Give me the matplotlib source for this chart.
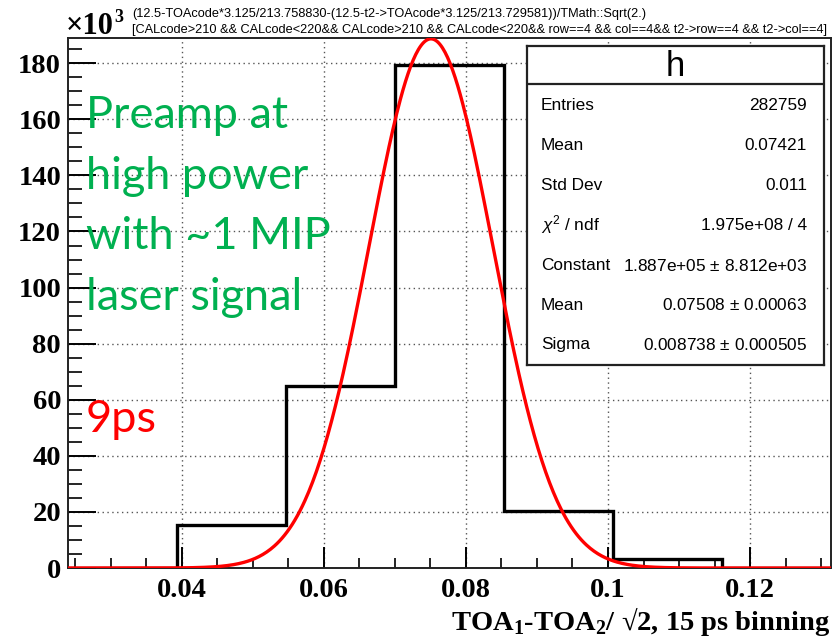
import numpy as np
import matplotlib
matplotlib.use("Agg")
import matplotlib.pyplot as plt
from matplotlib.ticker import MultipleLocator

# Histogram of (TOA1 - TOA2)/sqrt(2), 7 bins, counts in thousands
bin_lo = 0.0240
bin_width = 0.01534
counts_k = [0.0, 15.2, 64.8, 179.5, 20.4, 3.2, 0.0]

# Gaussian fit results
fit_constant = 1.887e5
fit_mean = 0.07508
fit_sigma = 0.008738

# Statistics box rows
stat_names = ["Entries", "Mean", "Std Dev", r"$\chi^2$ / ndf", "Constant", "Mean", "Sigma"]
stat_values = ["282759", "0.07421", "0.011", "1.975e+08 / 4",
               "1.887e+05 $\\pm$ 8.812e+03", "0.07508 $\\pm$ 0.00063",
               "0.008738 $\\pm$ 0.000505"]

x_ticks = [0.04, 0.06, 0.08, 0.10, 0.12]
x_ticklabels = ["0.04", "0.06", "0.08", "0.1", "0.12"]
y_ticks = [0, 20, 40, 60, 80, 100, 120, 140, 160, 180]

note_lines = ["Preamp at", "high power", "with ~1 MIP", "laser signal"]
resolution_note = "9ps"

title_line1 = "(12.5-TOAcode*3.125/213.758830-(12.5-t2->TOAcode*3.125/213.729581))/TMath::Sqrt(2.)"
title_line2 = "[CALcode>210 && CALcode<220&& CALcode>210 && CALcode<220&& row==4 && col==4&& t2->row==4 && t2->col==4]"

W, H = 837, 637
fig = plt.figure(figsize=(W / 100, H / 100), dpi=100)
plt.rcParams["mathtext.fontset"] = "custom"
plt.rcParams["mathtext.rm"] = "Liberation Sans"
plt.rcParams["mathtext.it"] = "Liberation Sans:italic"


def fx(x):
    return x / W


def fy(y):
    return 1 - y / H


ax_l, ax_r, ax_t, ax_b = 68, 831, 38, 568
ax = fig.add_axes([fx(ax_l), fy(ax_b), (ax_r - ax_l) / W, (ax_b - ax_t) / H])

edges = bin_lo + bin_width * np.arange(len(counts_k) + 1)
x_min, x_max = edges[0], edges[-1]
ax.set_xlim(x_min, x_max)
ax.set_ylim(0, 189)

# grid
ax.set_axisbelow(True)
ax.grid(True, which="major", color="#555555", linestyle=(0, (1, 2.5)), linewidth=1.0)

# histogram outline
ax.stairs(counts_k, edges, color="black", linewidth=2.4, zorder=3)

# Gaussian fit curve
xs = np.linspace(x_min, x_max, 600)
ys = fit_constant * np.exp(-0.5 * ((xs - fit_mean) / fit_sigma) ** 2) / 1000.0
ax.plot(xs, ys, color="#ff0000", linewidth=2.4, zorder=4, clip_on=True)

# axes styling
for side in ["left", "bottom", "right", "top"]:
    ax.spines[side].set_linewidth(1.4)
    ax.spines[side].set_color("#222222")

ax.set_xticks(x_ticks)
ax.set_xticklabels(x_ticklabels)
ax.set_yticks(y_ticks)
ax.xaxis.set_minor_locator(MultipleLocator(0.005))
ax.yaxis.set_minor_locator(MultipleLocator(5))
ax.tick_params(axis="x", which="major", direction="in", length=15, width=1.4, pad=7)
ax.tick_params(axis="x", which="minor", direction="in", length=7, width=1.2)
ax.tick_params(axis="y", which="major", direction="in", length=20, width=1.4, pad=5)
ax.tick_params(axis="y", which="minor", direction="in", length=10, width=1.2)
for lab in ax.get_xticklabels() + ax.get_yticklabels():
    lab.set_fontfamily("Liberation Serif")
    lab.set_fontweight("bold")
    lab.set_fontsize(20.5)

# x axis title
fig.text(fx(830), fy(622), "TOA$_\\mathregular{1}$-TOA$_\\mathregular{2}$/ \u221a2, 15 ps binning",
         ha="right", va="center", fontfamily="Liberation Serif", fontweight="bold", fontsize=20.5)

# exponent label
fig.text(fx(66), fy(34), "\u00d710", ha="left", va="baseline",
         fontfamily="Liberation Serif", fontweight="bold", fontsize=22)
fig.text(fx(114), fy(22), "3", ha="left", va="baseline",
         fontfamily="Liberation Serif", fontweight="bold", fontsize=13)

# selection/expression title
fig.text(fx(132), fy(14), title_line1, ha="left", va="center",
         fontfamily="Liberation Sans", fontsize=9.2)
fig.text(fx(132), fy(30), title_line2, ha="left", va="center",
         fontfamily="Liberation Sans", fontsize=9.2)

# annotations
for line, base in zip(note_lines, [128, 189, 249, 310]):
    fig.text(fx(86), fy(base), line, ha="left", va="baseline", fontfamily="Lato",
             fontsize=32.5, color="#00b050")
fig.text(fx(86), fy(432), resolution_note, ha="left", va="baseline", fontfamily="Lato",
         fontsize=32.5, color="#ff0000")

# statistics box
bl, br, bt, bb = 527, 824, 46, 365
sb = fig.add_axes([fx(bl), fy(bb), (br - bl) / W, (bb - bt) / H])
sb.set_xlim(0, 1)
sb.set_ylim(0, 1)
sb.set_xticks([])
sb.set_yticks([])
sb.set_facecolor("white")
for side in sb.spines.values():
    side.set_linewidth(1.6)
    side.set_color("#222222")
div_y = 1 - (84 - bt) / (bb - bt)
sb.axhline(div_y, color="#222222", linewidth=1.6)
sb.text(0.5, 1 - (66 - bt) / (bb - bt), "h", ha="center", va="center",
        fontfamily="Liberation Sans", fontsize=25)
row_ys = [105, 145, 185, 225, 266, 305, 345]
for name, val, ry in zip(stat_names, stat_values, row_ys):
    yy = 1 - (ry - bt) / (bb - bt)
    sb.text((541 - bl) / (br - bl), yy, name, ha="left", va="center",
            fontfamily="Liberation Sans", fontsize=12.4)
    sb.text((807 - bl) / (br - bl), yy, val, ha="right", va="center",
            fontfamily="Liberation Sans", fontsize=12.4)

fig.savefig("out.png", dpi=100)
